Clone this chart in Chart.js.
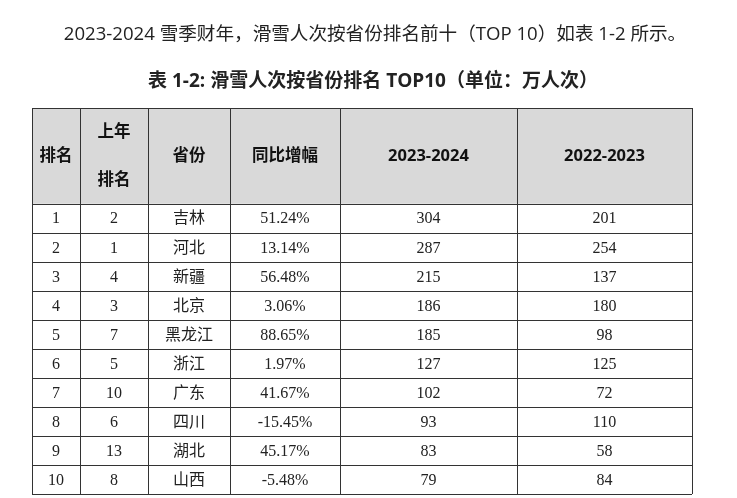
<!DOCTYPE html>
<html><head><meta charset="utf-8">
<script src="https://cdn.jsdelivr.net/npm/chart.js@4.4.1/dist/chart.umd.min.js"></script>
<style>html,body{margin:0;padding:0;background:#fff}</style>
</head><body>
<canvas id="c" width="737" height="498"></canvas>
<script>
const ranks = [1,2,3,4,5,6,7,8,9,10];
const prevRanks = [2,1,4,3,7,5,10,6,13,8];
const provinces = ['吉林','河北','新疆','北京','黑龙江','浙江','广东','四川','湖北','山西'];
const growth = ['51.24%','13.14%','56.48%','3.06%','88.65%','1.97%','41.67%','-15.45%','45.17%','-5.48%'];
const v2324 = [304,287,215,186,185,127,102,93,83,79];
const v2223 = [201,254,137,180,98,125,72,110,58,84];
const headers = ['排名',['上年','排名'],'省份','同比增幅','2023-2024','2022-2023'];
const colWidths = [48,68,82,110,177,175];
const titleText = '2023-2024 雪季财年，滑雪人次按省份排名前十（TOP 10）如表 1-2 所示。';
const subText = '表 1-2: 滑雪人次按省份排名 TOP10（单位：万人次）';

const colEdges = [0]; colWidths.forEach(w=>colEdges.push(colEdges[colEdges.length-1]+w));
const HEADER_H = 3.3;
const total = HEADER_H + ranks.length;

const tablePlugin = {
  id:'table',
  afterDraw(chart){
    const ctx = chart.ctx, xs = chart.scales.x, ys = chart.scales.y;
    const X = v=>xs.getPixelForValue(v), Y = v=>ys.getPixelForValue(v);
    ctx.save();
    ctx.fillStyle='#222'; ctx.textAlign='center'; ctx.textBaseline='middle';
    ctx.font='18.6px "Open Sans","Noto Sans CJK SC"';
    ctx.fillText(titleText, 375, 35);
    ctx.font='bold 19px "Open Sans","Noto Sans CJK SC"';
    ctx.fillText(subText, 373, 82);
    ctx.fillStyle='#d9d9d9';
    ctx.fillRect(X(0),Y(0),X(colEdges[6])-X(0),Y(HEADER_H)-Y(0));
    ctx.strokeStyle='#333'; ctx.lineWidth=1;
    const hl=[0,HEADER_H]; for(let i=1;i<=ranks.length;i++) hl.push(HEADER_H+i);
    hl.forEach(r=>{ctx.beginPath();ctx.moveTo(X(0),Math.round(Y(r))+0.5);ctx.lineTo(X(colEdges[6]),Math.round(Y(r))+0.5);ctx.stroke();});
    colEdges.forEach(c=>{ctx.beginPath();ctx.moveTo(Math.round(X(c))+0.5,Y(0));ctx.lineTo(Math.round(X(c))+0.5,Y(total));ctx.stroke();});
    ctx.fillStyle='#111'; ctx.font='bold 16.5px "Open Sans","Noto Sans CJK SC"';
    headers.forEach((h,i)=>{
      const cx=X((colEdges[i]+colEdges[i+1])/2), cy=Y(HEADER_H/2);
      if(Array.isArray(h)){ctx.fillText(h[0],cx,cy-24);ctx.fillText(h[1],cx,cy+24);}
      else ctx.fillText(h,cx,cy);
    });
    ctx.font='16px "Liberation Serif","Noto Sans CJK SC"'; ctx.fillStyle='#222';
    ranks.forEach((r,i)=>{
      const cy=Y(HEADER_H+i+0.5);
      const vals=[r,prevRanks[i],provinces[i],growth[i],v2324[i],v2223[i]];
      vals.forEach((v,j)=>ctx.fillText(String(v),X((colEdges[j]+colEdges[j+1])/2),cy+1));
    });
    ctx.restore();
  }
};

new Chart(document.getElementById('c'),{
  type:'scatter',
  data:{datasets:[{data:[]}]},
  options:{
    responsive:false,animation:false,
    layout:{padding:{left:32,right:737-32-colEdges[6],top:108,bottom:4}},
    plugins:{legend:{display:false},tooltip:{enabled:false}},
    scales:{
      x:{type:'linear',min:0,max:colEdges[6],display:false},
      y:{type:'linear',min:0,max:total,reverse:true,display:false}
    }
  },
  plugins:[tablePlugin]
});
</script>
</body></html>
